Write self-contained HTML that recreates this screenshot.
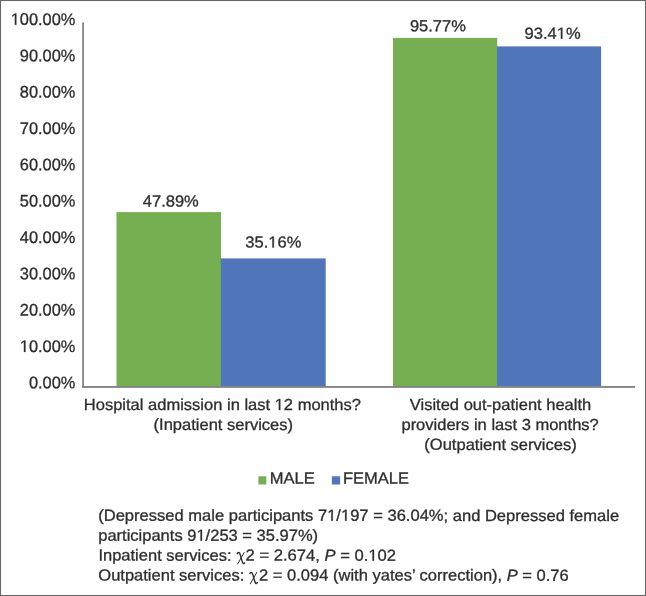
<!DOCTYPE html>
<html><head><meta charset="utf-8">
<style>
html,body{margin:0;padding:0;background:#fff;}
body{width:646px;height:596px;overflow:hidden;}
svg{display:block;}
text{font-family:"Liberation Sans",sans-serif;font-size:16px;fill:#2b2b2b;stroke:#2b2b2b;stroke-width:0.3px;}
.h{fill:none;stroke:none;}
.one{fill:#2b2b2b;stroke:#2b2b2b;stroke-width:38;}
.chi{font-family:"Liberation Serif",serif;font-size:15px;}
</style></head><body>
<svg width="646" height="596" viewBox="0 0 646 596">
<rect x="0" y="0" width="646" height="596" fill="#ffffff"/>
<rect x="0.5" y="0.5" width="645" height="595" fill="none" stroke="#676767" stroke-width="1.1"/>

<rect x="116.50" y="212.10" width="104.50" height="174.10" fill="#76ae52"/>
<rect x="220.80" y="258.40" width="104.90" height="127.80" fill="#5175ba"/>
<rect x="393.00" y="37.90" width="104.20" height="348.30" fill="#76ae52"/>
<rect x="497.00" y="46.40" width="104.10" height="339.80" fill="#5175ba"/>
<rect x="82.20" y="22.40" width="1.80" height="365.50" fill="#858585"/>
<rect x="82.20" y="386.00" width="552.90" height="1.90" fill="#858585"/>
<g style="opacity:0.99">
<text id="t0" style="font-size:16.7px" transform="translate(75.30,24.90) rotate(0.03) scale(0.9800,1)" text-anchor="end"><tspan class="h">1</tspan>00.00%</text><path class="one" transform="translate(75.30,24.90) rotate(0.03) scale(0.9800,1) translate(-65.858,0.000) scale(0.0081543,-0.0081543)" d="M515,0 L515,1237 L197,1010 L197,1180 L530,1409 L696,1409 L696,0 Z"/>
<text id="t1" style="font-size:16.7px" transform="translate(75.30,61.24) rotate(0.03) scale(0.9800,1)" text-anchor="end">90.00%</text>
<text id="t2" style="font-size:16.7px" transform="translate(75.30,97.58) rotate(0.03) scale(0.9800,1)" text-anchor="end">80.00%</text>
<text id="t3" style="font-size:16.7px" transform="translate(75.30,133.92) rotate(0.03) scale(0.9800,1)" text-anchor="end">70.00%</text>
<text id="t4" style="font-size:16.7px" transform="translate(75.30,170.26) rotate(0.03) scale(0.9800,1)" text-anchor="end">60.00%</text>
<text id="t5" style="font-size:16.7px" transform="translate(75.30,206.60) rotate(0.03) scale(0.9800,1)" text-anchor="end">50.00%</text>
<text id="t6" style="font-size:16.7px" transform="translate(75.30,242.94) rotate(0.03) scale(0.9800,1)" text-anchor="end">40.00%</text>
<text id="t7" style="font-size:16.7px" transform="translate(75.30,279.28) rotate(0.03) scale(0.9800,1)" text-anchor="end">30.00%</text>
<text id="t8" style="font-size:16.7px" transform="translate(75.30,315.62) rotate(0.03) scale(0.9800,1)" text-anchor="end">20.00%</text>
<text id="t9" style="font-size:16.7px" transform="translate(75.30,351.96) rotate(0.03) scale(0.9800,1)" text-anchor="end"><tspan class="h">1</tspan>0.00%</text><path class="one" transform="translate(75.30,351.96) rotate(0.03) scale(0.9800,1) translate(-56.579,0.000) scale(0.0081543,-0.0081543)" d="M515,0 L515,1237 L197,1010 L197,1180 L530,1409 L696,1409 L696,0 Z"/>
<text id="t10" style="font-size:16.7px" transform="translate(75.30,388.30) rotate(0.03) scale(0.9800,1)" text-anchor="end">0.00%</text>
<text id="t11" transform="translate(142.80,206.40) rotate(0.03) scale(1.0330,1)" text-anchor="start">47.89%</text>
<text id="t12" transform="translate(245.30,247.60) rotate(0.03) scale(1.0330,1)" text-anchor="start">35.<tspan class="h">1</tspan>6%</text><path class="one" transform="translate(245.30,247.60) rotate(0.03) scale(1.0330,1) translate(22.209,0.000) scale(0.0078125,-0.0078125)" d="M515,0 L515,1237 L197,1010 L197,1180 L530,1409 L696,1409 L696,0 Z"/>
<text id="t13" transform="translate(409.90,31.30) rotate(0.03) scale(1.0330,1)" text-anchor="start">95.77%</text>
<text id="t14" transform="translate(524.60,38.70) rotate(0.03) scale(1.0330,1)" text-anchor="start">93.4<tspan class="h">1</tspan>%</text><path class="one" transform="translate(524.60,38.70) rotate(0.03) scale(1.0330,1) translate(31.108,0.000) scale(0.0078125,-0.0078125)" d="M515,0 L515,1237 L197,1010 L197,1180 L530,1409 L696,1409 L696,0 Z"/>
<text id="t15" transform="translate(222.40,410.00) rotate(0.03) scale(1.0330,1)" text-anchor="middle">Hospital admission in last <tspan class="h">1</tspan>2 months?</text><path class="one" transform="translate(222.40,410.00) rotate(0.03) scale(1.0330,1) translate(50.611,0.000) scale(0.0078125,-0.0078125)" d="M515,0 L515,1237 L197,1010 L197,1180 L530,1409 L696,1409 L696,0 Z"/>
<text id="t16" transform="translate(223.30,429.90) rotate(0.03) scale(1.0330,1)" text-anchor="middle">(Inpatient services)</text>
<text id="t17" transform="translate(500.50,410.00) rotate(0.03) scale(1.0330,1)" text-anchor="middle">Visited out-patient health</text>
<text id="t18" transform="translate(500.10,430.00) rotate(0.03) scale(1.0330,1)" text-anchor="middle">providers in last 3 months?</text>
<text id="t19" transform="translate(500.50,449.90) rotate(0.03) scale(1.0330,1)" text-anchor="middle">(Outpatient services)</text>
<rect x="258.40" y="476.30" width="7.90" height="8.20" fill="#76ae52"/>
<rect x="331.90" y="476.30" width="8.20" height="8.20" fill="#5175ba"/>
<text id="t20" transform="translate(269.80,483.40) rotate(0.03) scale(1.0330,1)" text-anchor="start">MALE</text>
<text id="t21" transform="translate(342.90,483.40) rotate(0.03) scale(1.0330,1)" text-anchor="start">FEMALE</text>
<text id="t22" transform="translate(98.20,520.70) rotate(0.03) scale(1.0350,1)" text-anchor="start">(Depressed male participants 7<tspan class="h">1</tspan>/<tspan class="h">1</tspan>97 = 36.04%; and Depressed female</text><path class="one" transform="translate(98.20,520.70) rotate(0.03) scale(1.0350,1) translate(221.205,0.000) scale(0.0078125,-0.0078125)" d="M515,0 L515,1237 L197,1010 L197,1180 L530,1409 L696,1409 L696,0 Z"/><path class="one" transform="translate(98.20,520.70) rotate(0.03) scale(1.0350,1) translate(234.532,0.000) scale(0.0078125,-0.0078125)" d="M515,0 L515,1237 L197,1010 L197,1180 L530,1409 L696,1409 L696,0 Z"/>
<text id="t23" transform="translate(98.20,540.70) rotate(0.03) scale(1.0330,1)" text-anchor="start">participants 9<tspan class="h">1</tspan>/253 = 35.97%)</text><path class="one" transform="translate(98.20,540.70) rotate(0.03) scale(1.0330,1) translate(95.059,0.000) scale(0.0078125,-0.0078125)" d="M515,0 L515,1237 L197,1010 L197,1180 L530,1409 L696,1409 L696,0 Z"/>
<text id="t24" transform="translate(98.40,560.60) rotate(0.03) scale(1.0330,1)" text-anchor="start">Inpatient services:</text>
<g transform="translate(237.00,560.60)" fill="none" stroke="#2b2b2b" stroke-linecap="round"><path d="M0.3,-7.0 C1.2,-8.6 2.5,-8.4 3.1,-6.4 L5.3,1.3 C5.9,3.3 6.9,3.5 7.6,2.2" stroke-width="1.4"/><path d="M7.2,-8.1 L0.7,3.3" stroke-width="1.0"/></g>
<text id="t25" transform="translate(245.60,560.60) rotate(0.03) scale(1.0380,1)" text-anchor="start">2 = 2.674, <tspan font-style="italic">P</tspan> = 0.<tspan class="h">1</tspan>02</text><path class="one" transform="translate(245.60,560.60) rotate(0.03) scale(1.0380,1) translate(118.248,0.000) scale(0.0078125,-0.0078125)" d="M515,0 L515,1237 L197,1010 L197,1180 L530,1409 L696,1409 L696,0 Z"/>
<text id="t26" transform="translate(98.30,580.50) rotate(0.03) scale(1.0330,1)" text-anchor="start">Outpatient services:</text>
<g transform="translate(249.60,580.50)" fill="none" stroke="#2b2b2b" stroke-linecap="round"><path d="M0.3,-7.0 C1.2,-8.6 2.5,-8.4 3.1,-6.4 L5.3,1.3 C5.9,3.3 6.9,3.5 7.6,2.2" stroke-width="1.4"/><path d="M7.2,-8.1 L0.7,3.3" stroke-width="1.0"/></g>
<text id="t27" transform="translate(259.10,580.50) rotate(0.03) scale(1.0330,1)" text-anchor="start">2 = 0.094 (with yates’ correction), <tspan font-style="italic">P</tspan> = 0.76</text>
</g>
</svg></body></html>
